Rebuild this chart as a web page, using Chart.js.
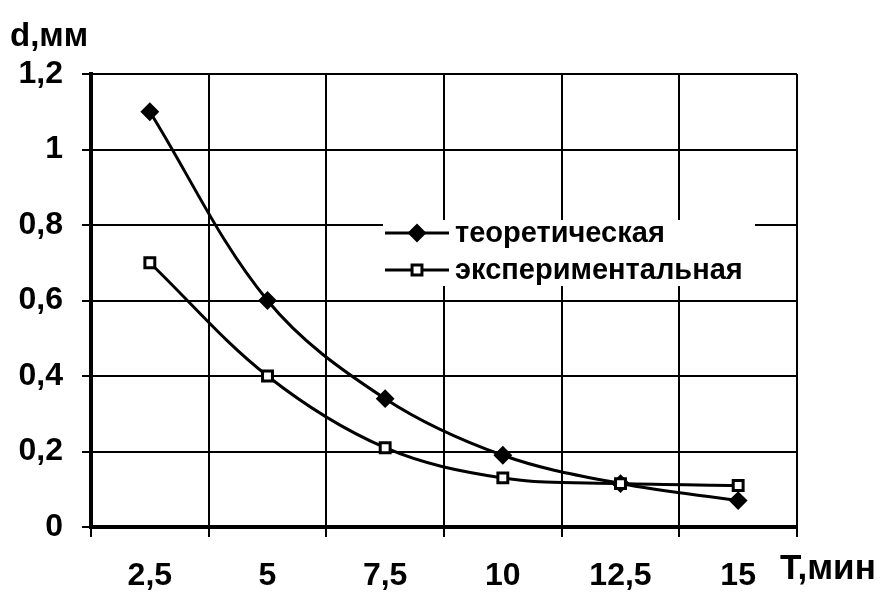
<!DOCTYPE html>
<html>
<head>
<meta charset="utf-8">
<script src="https://cdn.jsdelivr.net/npm/chart.js@4.4.1/dist/chart.umd.min.js"></script>
<style>
  html, body { margin: 0; padding: 0; background: #fff; }
  canvas { display: block; }
</style>
</head>
<body>
<canvas id="chart" width="894" height="606"></canvas>
<script>
// Data
const categories = ['2,5', '5', '7,5', '10', '12,5', '15'];
const theoretical = [1.10, 0.60, 0.34, 0.19, 0.115, 0.07];
const experimental = [0.70, 0.40, 0.21, 0.13, 0.115, 0.11];
const seriesNames = ['теоретическая', 'экспериментальная'];
const yTitle = 'd,мм';
const xTitle = 'T,мин';

const FONT = '"Liberation Sans", Arial, sans-serif';

// Axis titles and the legend box drawn inside the plot
const extras = {
    id: 'extras',
    afterDraw(chart) {
        const ctx = chart.ctx;
        ctx.save();
        ctx.fillStyle = '#000';
        ctx.font = 'bold 33px ' + FONT;
        ctx.textBaseline = 'alphabetic';
        ctx.textAlign = 'left';
        ctx.fillText(yTitle, 10, 46);
        ctx.font = 'bold 35px ' + FONT;
        ctx.fillText(xTitle, 780, 579);

        // legend
        const lx = 383, ly = 220, lw = 372, lh = 66;
        ctx.fillStyle = '#fff';
        ctx.fillRect(lx, ly, lw, lh);
        chart.data.datasets.forEach((ds, i) => {
            const cy = ly + 13 + i * 37;
            ctx.strokeStyle = '#000';
            ctx.lineWidth = 3;
            ctx.beginPath();
            ctx.moveTo(lx + 2, cy);
            ctx.lineTo(lx + 66, cy);
            ctx.stroke();
            ctx.fillStyle = ds.pointBackgroundColor;
            ctx.strokeStyle = ds.pointBorderColor;
            ctx.lineWidth = ds.pointBorderWidth;
            Chart.helpers.drawPoint(ctx, {
                pointStyle: ds.pointStyle,
                radius: ds.pointRadius,
                borderWidth: ds.pointBorderWidth
            }, lx + 34, cy);
            ctx.fillStyle = '#000';
            ctx.font = 'bold 29px ' + FONT;
            ctx.textBaseline = 'middle';
            ctx.fillText(ds.label, lx + 72, cy + 1);
        });
        ctx.restore();
    }
};

const ctx = document.getElementById('chart').getContext('2d');
const chart = new Chart(ctx, {
    type: 'line',
    data: {
        labels: categories,
        datasets: [
            {
                label: seriesNames[0],
                data: theoretical,
                order: 1,
                borderColor: '#000',
                backgroundColor: '#000',
                borderWidth: 3,
                tension: 0.35,
                pointStyle: 'rectRot',
                pointRadius: 8,
                pointBorderWidth: 2,
                pointBackgroundColor: '#000',
                pointBorderColor: '#000'
            },
            {
                label: seriesNames[1],
                data: experimental,
                order: 0,
                borderColor: '#000',
                backgroundColor: '#fff',
                borderWidth: 3,
                tension: 0.35,
                pointStyle: 'rect',
                pointRadius: 7,
                pointBorderWidth: 3,
                pointBackgroundColor: '#fff',
                pointBorderColor: '#000'
            }
        ]
    },
    options: {
        responsive: false,
        animation: false,
        layout: {
            padding: { top: 74, right: 97, left: 0, bottom: 0 }
        },
        plugins: {
            legend: { display: false },
            tooltip: { enabled: false }
        },
        scales: {
            x: {
                offset: true,
                grid: {
                    offset: true,
                    color: '#000',
                    lineWidth: 2,
                    tickLength: 10,
                    tickColor: '#000'
                },
                border: { color: '#000', width: 4 },
                ticks: {
                    color: '#000',
                    padding: 20,
                    font: { family: FONT, size: 32, weight: 'bold' }
                },
                afterFit: function(scale) { scale.height = 606 - 527; }
            },
            y: {
                min: 0,
                max: 1.2,
                grid: {
                    color: '#000',
                    lineWidth: 2,
                    tickLength: 9,
                    tickColor: '#000'
                },
                border: { color: '#000', width: 4 },
                ticks: {
                    stepSize: 0.2,
                    color: '#000',
                    padding: 19,
                    font: { family: FONT, size: 32, weight: 'bold' },
                    callback: function(value) {
                        return String(Math.round(value * 10) / 10).replace('.', ',');
                    }
                },
                afterFit: function(scale) { scale.width = 91; }
            }
        }
    },
    plugins: [extras]
});
</script>
</body>
</html>
